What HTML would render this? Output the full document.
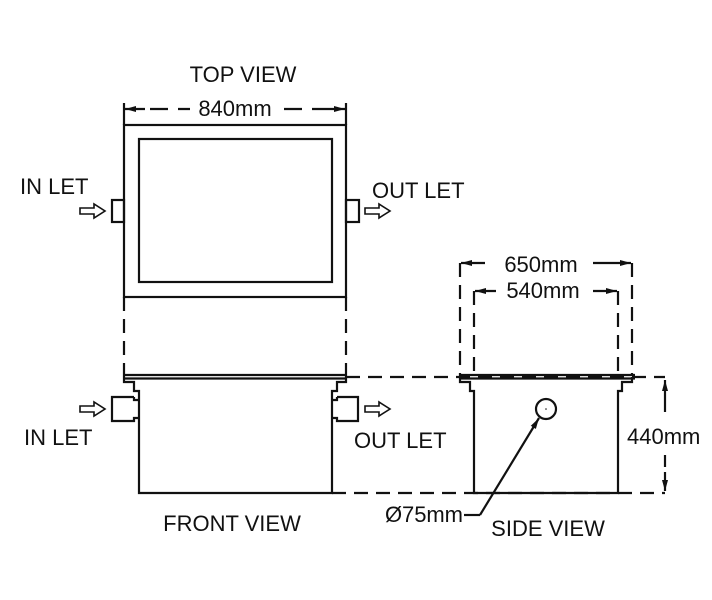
<!DOCTYPE html>
<html><head><style>
html,body{margin:0;padding:0;background:#fff;width:712px;height:600px;overflow:hidden}
svg text{font-family:"Liberation Sans",sans-serif;font-size:22px;fill:#111}
</style></head><body>
<svg width="712" height="600" viewBox="0 0 712 600" xmlns="http://www.w3.org/2000/svg">
<defs>
<marker id="ah" markerWidth="12" markerHeight="8" refX="11" refY="4" orient="auto" markerUnits="userSpaceOnUse"><path d="M0,1 L11,4 L0,7 Z" fill="#111"/></marker>
</defs>
<g stroke="#111" fill="none" stroke-width="2.2">
<rect x="124" y="125" width="222" height="172"/>
<rect x="139" y="139" width="193" height="143"/>
<line x1="124" y1="103" x2="124" y2="125"/><line x1="346" y1="103" x2="346" y2="125"/>
<line x1="145" y1="109" x2="125" y2="109" marker-end="url(#ah)"/>
<line x1="150" y1="109" x2="190" y2="109" stroke-dasharray="18,10"/>
<line x1="284" y1="109" x2="325" y2="109" stroke-dasharray="18,10"/>
<line x1="325" y1="109" x2="345" y2="109" marker-end="url(#ah)"/>
<rect x="112" y="200" width="12" height="22"/>
<rect x="346" y="200" width="13" height="22"/>
<path d="M80,208 H94 V204 L105,211 L94,218 V214 H80 Z" stroke-width="1.6"/>
<path d="M365,208 H379 V204 L390,211 L379,218 V214 H365 Z" stroke-width="1.6"/>
<line x1="124" y1="297" x2="124" y2="377" stroke-dasharray="14,8"/>
<line x1="346" y1="297" x2="346" y2="377" stroke-dasharray="14,8"/>
<line x1="124" y1="375" x2="346" y2="375"/>
<line x1="124" y1="378.5" x2="346" y2="378.5"/>
<path d="M124,377 V382 H134 V391 H139 V493 H332 V391 H337 V382 H346 V377"/>
<path d="M134,397 H112 V421 H134 V418 H139 M134,397 V400 H139"/>
<path d="M337,397 H358 V421 H337 V418 H332 M337,397 V400 H332"/>
<path d="M80,406 H94 V402 L105,409 L94,416 V412 H80 Z" stroke-width="1.6"/>
<path d="M365,406 H379 V402 L390,409 L379,416 V412 H365 Z" stroke-width="1.6"/>
<line x1="346" y1="377" x2="665" y2="377" stroke-dasharray="14,8"/>
<line x1="332" y1="493" x2="665" y2="493" stroke-dasharray="14,8"/>
<line x1="460" y1="375" x2="635" y2="375"/>
<line x1="460" y1="378.5" x2="635" y2="378.5"/>
<path d="M460,377 V382 H470 V391 H474 V493 H618 V391 H622 V382 H632 V377"/>
<circle cx="546" cy="409" r="10"/>
<circle cx="546" cy="409" r="0.8" fill="#111" stroke="none"/>
<line x1="480" y1="515" x2="539" y2="418" marker-end="url(#ah)"/>
<line x1="464" y1="515" x2="480" y2="515"/>
<line x1="460" y1="263" x2="460" y2="376" stroke-dasharray="14,8"/>
<line x1="632" y1="263" x2="632" y2="376" stroke-dasharray="14,8"/>
<line x1="485" y1="263" x2="461" y2="263" marker-end="url(#ah)"/>
<line x1="593" y1="263" x2="631" y2="263" marker-end="url(#ah)"/>
<line x1="474" y1="291" x2="474" y2="376" stroke-dasharray="14,8"/>
<line x1="618" y1="291" x2="618" y2="376" stroke-dasharray="14,8"/>
<line x1="496" y1="291" x2="475" y2="291" marker-end="url(#ah)"/>
<line x1="593" y1="291" x2="617" y2="291" marker-end="url(#ah)"/>
<line x1="665" y1="400" x2="665" y2="380" marker-end="url(#ah)"/>
<line x1="665" y1="400" x2="665" y2="420" stroke-dasharray="12,8"/>
<line x1="665" y1="455" x2="665" y2="475" stroke-dasharray="12,8"/>
<line x1="665" y1="472" x2="665" y2="491" marker-end="url(#ah)"/>
</g>
<text x="243" y="82" text-anchor="middle">TOP VIEW</text>
<text x="235" y="116" text-anchor="middle">840mm</text>
<text x="20" y="194">IN LET</text>
<text x="372" y="198">OUT LET</text>
<text x="24" y="445">IN LET</text>
<text x="354" y="448">OUT LET</text>
<text x="232" y="531" text-anchor="middle">FRONT VIEW</text>
<text x="548" y="536" text-anchor="middle">SIDE VIEW</text>
<text x="541" y="272" text-anchor="middle">650mm</text>
<text x="543" y="298" text-anchor="middle">540mm</text>
<text x="627" y="444">440mm</text>
<text x="385" y="522" textLength="78">Ø75mm</text>
</svg>
</body></html>
